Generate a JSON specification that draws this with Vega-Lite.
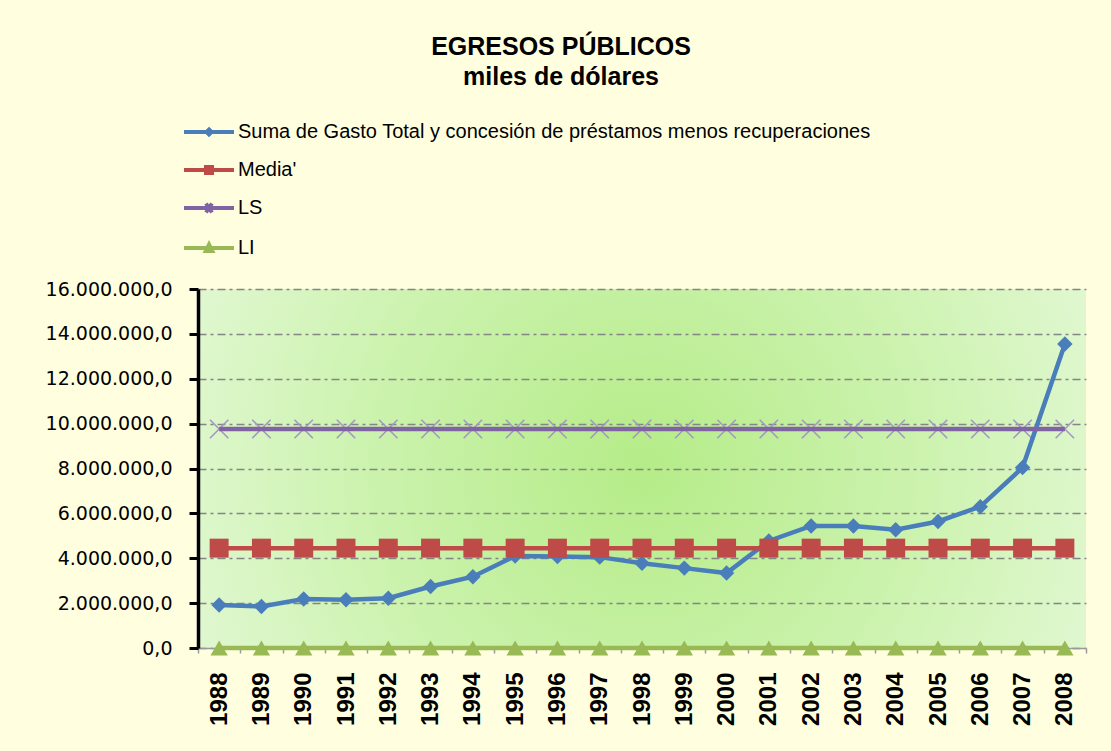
{
  "$schema": "https://vega.github.io/schema/vega-lite/v6.json",
  "width": 888,
  "height": 359,
  "autosize": {"type": "none"},
  "padding": {"left": 198, "top": 289, "right": 25, "bottom": 103},
  "background": "#FFFFE0",
  "title": {
    "text": ["EGRESOS PÚBLICOS", "miles de dólares"],
    "font": "Liberation Sans",
    "fontSize": 25,
    "fontWeight": "bold",
    "lineHeight": 30,
    "color": "#000000",
    "anchor": "middle",
    "dx": -81,
    "offset": 15
  },
  "data": {
    "values": [
      {"year": "1988", "S": 1920000, "M": 4450000, "LS": 9760000, "LI": 0},
      {"year": "1989", "S": 1850000, "M": 4450000, "LS": 9760000, "LI": 0},
      {"year": "1990", "S": 2180000, "M": 4450000, "LS": 9760000, "LI": 0},
      {"year": "1991", "S": 2150000, "M": 4450000, "LS": 9760000, "LI": 0},
      {"year": "1992", "S": 2220000, "M": 4450000, "LS": 9760000, "LI": 0},
      {"year": "1993", "S": 2740000, "M": 4450000, "LS": 9760000, "LI": 0},
      {"year": "1994", "S": 3180000, "M": 4450000, "LS": 9760000, "LI": 0},
      {"year": "1995", "S": 4100000, "M": 4450000, "LS": 9760000, "LI": 0},
      {"year": "1996", "S": 4080000, "M": 4450000, "LS": 9760000, "LI": 0},
      {"year": "1997", "S": 4050000, "M": 4450000, "LS": 9760000, "LI": 0},
      {"year": "1998", "S": 3780000, "M": 4450000, "LS": 9760000, "LI": 0},
      {"year": "1999", "S": 3560000, "M": 4450000, "LS": 9760000, "LI": 0},
      {"year": "2000", "S": 3340000, "M": 4450000, "LS": 9760000, "LI": 0},
      {"year": "2001", "S": 4770000, "M": 4450000, "LS": 9760000, "LI": 0},
      {"year": "2002", "S": 5440000, "M": 4450000, "LS": 9760000, "LI": 0},
      {"year": "2003", "S": 5440000, "M": 4450000, "LS": 9760000, "LI": 0},
      {"year": "2004", "S": 5270000, "M": 4450000, "LS": 9760000, "LI": 0},
      {"year": "2005", "S": 5640000, "M": 4450000, "LS": 9760000, "LI": 0},
      {"year": "2006", "S": 6300000, "M": 4450000, "LS": 9760000, "LI": 0},
      {"year": "2007", "S": 8040000, "M": 4450000, "LS": 9760000, "LI": 0},
      {"year": "2008", "S": 13550000, "M": 4450000, "LS": 9760000, "LI": 0}
    ]
  },
  "transform": [
    {"fold": ["S", "M", "LS", "LI"], "as": ["serie", "value"]}
  ],
  "encoding": {
    "x": {
      "field": "year",
      "type": "ordinal",
      "scale": {"type": "band", "paddingInner": 0, "paddingOuter": 0},
      "axis": {
        "title": null,
        "labelAngle": 270,
        "labelFont": "Liberation Sans",
        "labelFontSize": 24,
        "labelFontWeight": "bold",
        "labelColor": "#000000",
        "labelPadding": 19,
        "tickBand": "extent",
        "tickSize": 5,
        "tickColor": "#9a9a9a",
        "tickWidth": 1.5,
        "domainColor": "#9a9a9a",
        "domainWidth": 1.5,
        "grid": false
      }
    },
    "y": {
      "field": "value",
      "type": "quantitative",
      "scale": {"domain": [0, 16000000], "nice": false},
      "axis": {
        "title": null,
        "values": [0, 2000000, 4000000, 6000000, 8000000, 10000000, 12000000, 14000000, 16000000],
        "format": ",.1f",
        "labelFont": "DejaVu Sans",
        "labelFontSize": 19,
        "labelColor": "#000000",
        "labelPadding": 17,
        "tickSize": 9,
        "tickWidth": 3,
        "tickColor": "#000000",
        "domainColor": "#000000",
        "domainWidth": 3.5,
        "grid": true,
        "gridColor": "#858585",
        "gridWidth": 1.5,
        "gridDash": [8, 4, 3, 4]
      }
    }
  },
  "layer": [
    {
      "transform": [{"filter": "datum.serie === 'LS'"}],
      "mark": {"type": "point", "filled": false, "shape": "M-1,-1L1,1M-1,1L1,-1", "size": 340, "stroke": "#A597C2", "strokeWidth": 1.6, "opacity": 1}
    },
    {
      "mark": {"type": "line", "strokeWidth": 4.5},
      "encoding": {
        "color": {
          "field": "serie",
          "type": "nominal",
          "scale": {"domain": ["S", "M", "LS", "LI"], "range": ["#4A7EBB", "#BE4B48", "#7F63A2", "#98B954"]},
          "legend": {
            "title": null,
            "orient": "none",
            "legendX": -16,
            "legendY": -184,
            "direction": "vertical",
            "symbolSize": 2500,
            "symbolStrokeWidth": 4,
            "rowPadding": -12,
            "labelOffset": 2,
            "labelFont": "Liberation Sans",
            "labelFontSize": 20,
            "labelColor": "#000000",
            "labelLimit": 900,
            "labelExpr": "datum.value === 'S' ? 'Suma de Gasto Total y concesión de préstamos menos recuperaciones' : datum.value === 'M' ? \"Media'\" : datum.value",
            "encode": {
              "symbols": {
                "update": {
                  "shape": {"signal": "datum.value === 'S' ? 'M-1,0H1M0,-0.1L0.1,0L0,0.1L-0.1,0Z' : datum.value === 'LS' ? 'M-1,0H1M-0.12,-0.18L0.12,0.18M-0.12,0.18L0.12,-0.18' : datum.value === 'LI' ? 'M-1,0H1M0,-0.14L0.13,0.12H-0.13Z' : 'M-1,0H1M-0.12,-0.12H0.12V0.12H-0.12Z'"},
                  "fill": {"scale": "color", "field": "value"},
                  "stroke": {"scale": "color", "field": "value"},
                  "strokeWidth": {"value": 4},
                  "opacity": {"value": 1}
                }
              }
            }
          }
        }
      }
    },
    {
      "transform": [{"filter": "datum.serie === 'S'"}],
      "mark": {"type": "point", "filled": true, "opacity": 1, "shape": "diamond", "size": 240, "color": "#4A7EBB"}
    },
    {
      "transform": [{"filter": "datum.serie === 'M'"}],
      "mark": {"type": "point", "filled": true, "opacity": 1, "shape": "square", "size": 360, "color": "#BE4B48"}
    },
    {
      "transform": [{"filter": "datum.serie === 'LI'"}],
      "mark": {"type": "point", "filled": true, "opacity": 1, "shape": "triangle-up", "size": 300, "color": "#98B954"}
    }
  ],
  "config": {
    "locale": {"number": {"decimal": ",", "thousands": ".", "grouping": [3], "currency": ["", ""]}},
    "view": {
      "stroke": null,
      "fill": {
        "gradient": "radial",
        "x1": 0.5, "y1": 0.5, "r1": 0,
        "x2": 0.5, "y2": 0.5, "r2": 0.72,
        "stops": [
          {"offset": 0, "color": "#b5ec88"},
          {"offset": 0.45, "color": "#cdf3b0"},
          {"offset": 1, "color": "#f0fbeb"}
        ]
      }
    }
  }
}
